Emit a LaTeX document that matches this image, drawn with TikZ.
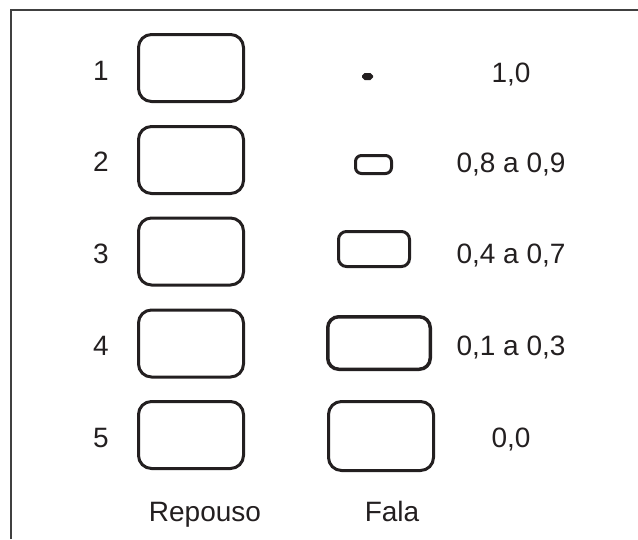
\documentclass[tikz,border=0pt]{standalone}
\usepackage{fontspec}
\setmainfont{Liberation Sans}
\definecolor{ink}{HTML}{231F20}
\begin{document}
\begin{tikzpicture}[x=1pt,y=-1pt,
  box/.style={draw=ink,line width=3pt,rounded corners=13pt,inner sep=0pt,minimum width=105pt,minimum height=67pt},
  fbox/.style={draw=ink,line width=3pt,inner sep=0pt},
  lbl/.style={anchor=base,text=ink,inner sep=0pt,font=\fontsize{28}{33}\selectfont}]
\useasboundingbox (0,0) rectangle (638,539);
\coordinate (tl) at (11,10);
\coordinate (tr) at (638,10);
\coordinate (bl) at (11,539);
\draw[black!75,line width=1.5pt] (bl) -- (tl) -- (tr);
% Repouso column
\node[box] (r1) at (191,68) {};
\node[box] (r2) at (191,160) {};
\node[box] (r3) at (191,251.5) {};
\node[box] (r4) at (191,343.5) {};
\node[box] (r5) at (191,435) {};
% Fala column
\node[fbox,line width=2.5pt,rounded corners=1.8pt,minimum width=8.5pt,minimum height=4.5pt,fill=ink] (f1) at (367.5,76.5) {};
\node[fbox,rounded corners=6pt,minimum width=36pt,minimum height=18pt] (f2) at (373.5,164.5) {};
\node[fbox,rounded corners=8pt,minimum width=71pt,minimum height=35pt] (f3) at (374,249) {};
\node[fbox,line width=3.5pt,rounded corners=11pt,minimum width=102.5pt,minimum height=52.5pt] (f4) at (379,343) {};
\node[fbox,rounded corners=13pt,minimum width=105pt,minimum height=69pt] (f5) at (381,436) {};
% numbers
\node[lbl] (n1) at (101,80) {1};
\node[lbl] (n2) at (101,171) {2};
\node[lbl] (n3) at (101,263) {3};
\node[lbl] (n4) at (101,355) {4};
\node[lbl] (n5) at (101,447) {5};
% values
\node[lbl] (v1) at (511,82) {1,0};
\node[lbl] (v2) at (511,172) {0,8 a 0,9};
\node[lbl] (v3) at (511,263) {0,4 a 0,7};
\node[lbl] (v4) at (511,355) {0,1 a 0,3};
\node[lbl] (v5) at (511,447) {0,0};
% column labels
\node[lbl] (lr) at (205,521) {Repouso};
\node[lbl] (lf) at (392,521) {Fala};
\end{tikzpicture}
\end{document}
